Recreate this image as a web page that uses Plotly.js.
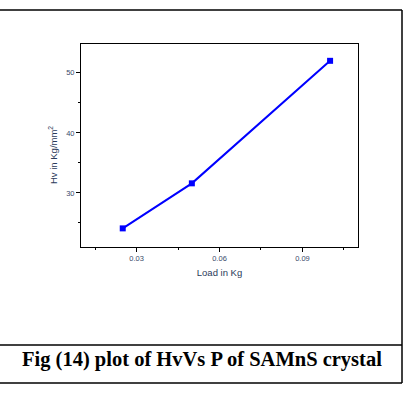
<!DOCTYPE html>
<html>
<head>
<meta charset="utf-8">
<script src="https://cdn.plot.ly/plotly-3.0.1.min.js"></script>
<style>html,body{margin:0;padding:0;background:#fff;}#chart{width:412px;height:396px;}</style>
</head>
<body>
<div id="chart"></div>
<script>
const loadKg = [0.025, 0.05, 0.1];
const hardness = [24.1, 31.6, 52.0];
const xTitle = "Load in Kg";
const yTitle = "Hv in Kg/mm<sup>2</sup>";
const caption = "Fig (14) plot of HvVs P of SAMnS crystal";

const L = 81, T = 44, R = 358, B = 247, W = 412, H = 396;
const pw = R - L, ph = B - T;
const px = v => (v - L) / pw;
const py = v => (B - v) / ph;

const tickFont = {family: "Liberation Sans, Arial, sans-serif", size: 7.5, color: "#3a4a6a"};
const titleFont = {family: "Liberation Sans, Arial, sans-serif", size: 9.5, color: "#2a3a5a"};

const trace = {
  x: loadKg, y: hardness, type: "scatter", mode: "lines+markers",
  line: {color: "#0000ff", width: 2},
  marker: {color: "#0000ff", symbol: "square", size: 6},
  showlegend: false
};

const borderLine = {color: "#000", width: 1.5};
const layout = {
  width: W, height: H,
  margin: {l: L, r: W - R, t: T, b: H - B, pad: 0},
  paper_bgcolor: "#fff", plot_bgcolor: "#fff",
  xaxis: {
    range: [0.0099, 0.1101], tick0: 0.03, dtick: 0.03, tickformat: ".2f",
    ticks: "outside", ticklen: 4, tickwidth: 1, tickcolor: "#000",
    minor: {dtick: 0.015, tick0: 0.015, ticks: "outside", ticklen: 2, tickcolor: "#000"},
    showline: true, linecolor: "#000", linewidth: 1, mirror: true,
    showgrid: false, zeroline: false, tickfont: tickFont,
    title: {text: xTitle, font: titleFont, standoff: 7}
  },
  yaxis: {
    range: [21, 54.8], tick0: 30, dtick: 10,
    ticks: "outside", ticklen: 4, tickwidth: 1, tickcolor: "#000",
    minor: {dtick: 5, tick0: 25, ticks: "outside", ticklen: 2, tickcolor: "#000"},
    showline: true, linecolor: "#000", linewidth: 1, mirror: true,
    showgrid: false, zeroline: false, tickfont: tickFont
  },
  shapes: [
    {type: "line", xref: "paper", yref: "paper", x0: px(0), x1: px(402), y0: py(10), y1: py(10), line: borderLine},
    {type: "line", xref: "paper", yref: "paper", x0: px(402), x1: px(402), y0: py(10), y1: py(383), line: borderLine},
    {type: "line", xref: "paper", yref: "paper", x0: px(0), x1: px(402), y0: py(345), y1: py(345), line: borderLine},
    {type: "line", xref: "paper", yref: "paper", x0: px(0), x1: px(402), y0: py(383), y1: py(383), line: borderLine}
  ],
  annotations: [
    {text: yTitle, xref: "paper", yref: "paper", x: px(53), y: py(155), textangle: -90,
     showarrow: false, font: titleFont, xanchor: "center", yanchor: "middle"},
    {text: "<b>" + caption + "</b>", xref: "paper", yref: "paper", x: px(202), y: py(359),
     showarrow: false, xanchor: "center", yanchor: "middle",
     font: {family: "Liberation Serif, Times New Roman, serif", size: 20.5, color: "#000"}}
  ]
};

Plotly.newPlot("chart", [trace], layout, {staticPlot: true, displayModeBar: false});
</script>
</body>
</html>
